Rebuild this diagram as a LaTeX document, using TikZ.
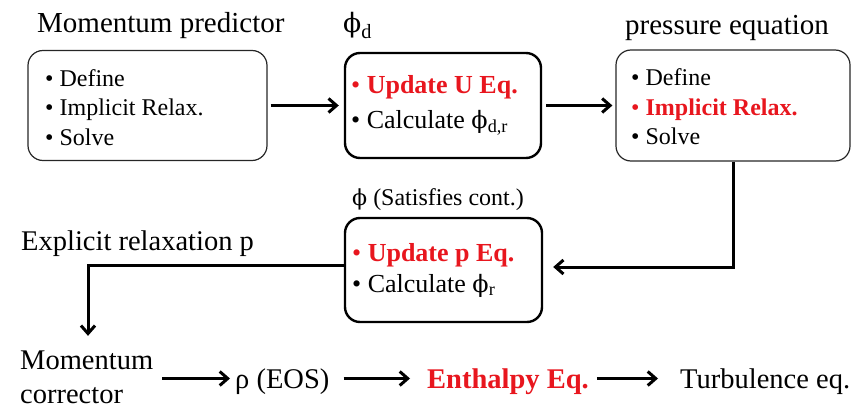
\documentclass[tikz,border=0pt]{standalone}
\usepackage{fontspec}
\setmainfont{Liberation Serif}
\newfontfamily\phifont{DejaVu Serif}[Scale=0.92]
\newcommand{\myphi}{{\phifont\symbol{"03D5}}}
\usetikzlibrary{arrows.meta}
\definecolor{eqred}{RGB}{232,22,30}
\begin{document}
\begin{tikzpicture}[x=1pt,y=-1pt,
  frame/.style={draw=black!85, rounded corners=15pt, line width=1.2pt},
  thickframe/.style={draw=black, rounded corners=15pt, line width=2.4pt},
  bt/.style={inner sep=0pt, align=left, anchor=west},
  arr/.style={line width=3pt, -{Straight Barb[length=8pt,width=14pt]}},
  head/.style={inner sep=0pt, anchor=base west, font=\fontsize{29}{34}\selectfont},
  rowtext/.style={inner sep=0pt, anchor=base west, font=\fontsize{28.5}{34}\selectfont, text height=19pt, text depth=0pt}
]
\useasboundingbox (0,0) rectangle (851,409);

% boxes
\node[frame, minimum width=239pt, minimum height=110pt] (b1) at (147.5,105.5) {};
\node[thickframe, minimum width=196pt, minimum height=105pt] (b2) at (443,105.5) {};
\node[frame, minimum width=234pt, minimum height=111pt] (b3) at (733,105.5) {};
\node[thickframe, minimum width=197pt, minimum height=104pt] (b4) at (443.5,270) {};

% box texts
\node[bt, font=\fontsize{24}{29.5}\selectfont] (b1t) at (45,107.5)
  {\textbullet\ Define\\\textbullet\ Implicit Relax.\\\textbullet\ Solve};
\node[bt, font=\fontsize{26}{35}\selectfont] (b2t) at (351,105.5)
  {{\color{eqred}\textbullet\ \textbf{Update U Eq.}}\\\textbullet\ Calculate \myphi\textsubscript{d,r}};
\node[bt, font=\fontsize{24}{29.5}\selectfont] (b3t) at (631,107)
  {\textbullet\ Define\\{\color{eqred}\textbullet\ \textbf{Implicit Relax.}}\\\textbullet\ Solve};
\node[bt, font=\fontsize{26}{31}\selectfont] (b4t) at (352,270)
  {{\color{eqred}\textbullet\ \textbf{Update p Eq.}}\\\textbullet\ Calculate \myphi\textsubscript{r}};

% headings
\node[head] (h1) at (37,33) {Momentum predictor};
\node[head] (h2) at (343,33) {\myphi\textsubscript{d}};
\node[head] (h3) at (625,35) {pressure equation};
\node[head, font=\fontsize{24}{28}\selectfont] (h4) at (352,205) {\myphi\ (Satisfies cont.)};
\node[head, font=\fontsize{28.5}{34}\selectfont] (h5) at (21,250) {Explicit relaxation p};

% bottom row
\node[inner sep=0pt, align=left, anchor=west, font=\fontsize{28.5}{34}\selectfont] (mc) at (20,377.5) {Momentum\\corrector};
\node[rowtext] (rho) at (235,388) {ρ (EOS)};
\node[rowtext, text=eqred, font=\fontsize{28.5}{34}\selectfont\bfseries] (enth) at (427,388) {Enthalpy Eq.};
\node[rowtext] (turb) at (680,388) {Turbulence eq.};

% connectors
\draw[arr, shorten <=3pt, shorten >=5pt] (b1.east) -- (b2.west);
\draw[arr, shorten <=4pt, shorten >=3pt] (b2.east) -- (b3.west);
\draw[arr, shorten >=10pt] (b3.south) |- ([yshift=3pt]b4.east);
\coordinate (turn) at (88,265.5);
\draw[arr, shorten >=15pt] ([yshift=4.5pt]b4.west) -- (turn) -- (turn |- mc.north);
\draw[arr, shorten <=9pt, shorten >=5pt] (mc.east |- 0,378.5) -- (rho.west);
\draw[arr, shorten <=14pt, shorten >=17pt] (rho.east) -- (enth.west);
\draw[arr, shorten <=8pt, shorten >=22pt] (enth.east) -- (turb.west);
\end{tikzpicture}
\end{document}
